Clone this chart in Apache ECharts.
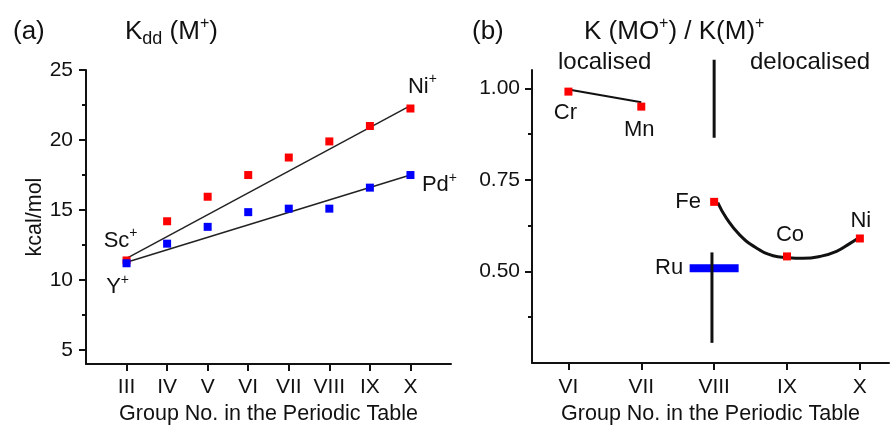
<!DOCTYPE html>
<html>
<head>
<meta charset="utf-8">
<script src="https://cdn.jsdelivr.net/npm/echarts@6/dist/echarts.min.js"></script>
<style>
  html, body { margin: 0; padding: 0; background: #fff; }
  #chart { width: 890px; height: 430px; }
</style>
</head>
<body>
<div id="chart"></div>
<script>
// panel (a): K_dd of M+ vs group number
const groupNumA = [3, 4, 5, 6, 7, 8, 9, 10];
const romanA = ['III', 'IV', 'V', 'VI', 'VII', 'VIII', 'IX', 'X'];
const kddNi = [11.4, 14.2, 15.95, 17.5, 18.75, 19.9, 21.0, 22.25];
const kddPd = [11.2, 12.6, 13.8, 14.85, 15.1, 15.1, 16.6, 17.5];
const fitNi = [11.55, 22.45];   // line ends at III and X
const fitPd = [11.27, 17.5];
const ticksA = [5, 10, 15, 20, 25];
const minorA = [7.5, 12.5, 17.5, 22.5];

// panel (b): K(MO+)/K(M+)
const groupNumB = [6, 7, 8, 9, 10];
const romanB = ['VI', 'VII', 'VIII', 'IX', 'X'];
const metalsB = ['Cr', 'Mn', 'Fe', 'Co', 'Ni'];
const ratioB = [0.991, 0.950, 0.690, 0.541, 0.590];
const ratioRu = 0.509;
const lineCrMn = [0.997, 0.962];
const curveX = [8.05, 8.17, 8.35, 8.58, 8.81, 9.0, 9.22, 9.45, 9.68, 9.86, 9.97];
const curveY = [0.688, 0.645, 0.600, 0.564, 0.543, 0.538, 0.536, 0.541, 0.555, 0.576, 0.590];
const dividerTop = [1.078, 0.865];
const dividerBottom = [0.552, 0.305];
const ticksB = [0.5, 0.75, 1.0];
const minorB = [0.375, 0.625, 0.875];

const RED = '#ff0000', BLUE = '#0000ff', INK = '#111';
const FONT = 'Liberation Sans';

function richSet(size) {
    const base = { fontFamily: FONT, color: INK, fontWeight: 'normal' };
    return {
        n: Object.assign({ fontSize: size, lineHeight: size + 6, verticalAlign: 'middle' }, base),
        s: Object.assign({ fontSize: Math.round(size * 0.62), lineHeight: Math.round(size * 0.62), verticalAlign: 'top' }, base),
        d: Object.assign({ fontSize: Math.round(size * 0.68), lineHeight: Math.round(size * 0.68), verticalAlign: 'bottom' }, base)
    };
}

function ptLabel(text, offset) {
    return { show: true, position: 'inside', offset: offset, formatter: text, color: INK, opacity: 1, rich: richSet(22) };
}

// label offsets for the annotated points
const labA = {
    ni: { 0: ['{n|Sc}{s|+}', [-6, -20]], 7: ['{n|Ni}{s|+}', [12, -22]] },
    pd: { 0: ['{n|Y}{s|+}', [-9, 24]], 7: ['{n|Pd}{s|+}', [29, 10]] }
};
const labB = [[-3, 21], [-2, 23], [-26, 0], [3, -21], [1, -18]];

const myChart = echarts.init(document.getElementById('chart'));

const axisLine = { show: true, onZero: false, lineStyle: { color: INK, width: 2 } };
const labelStyle = { color: INK, fontSize: 21, fontFamily: FONT };
const nameStyle = { color: INK, fontSize: 21.5, fontFamily: FONT };
const headStyle = { fontSize: 26, fontFamily: FONT, color: INK, fontWeight: 'normal' };
const noteStyle = { fontSize: 24, fontFamily: FONT, color: INK, fontWeight: 'normal' };

function minorAxis(grid, min, max, vals) {
    return {
        type: 'value', gridIndex: grid, min: min, max: max, position: 'left',
        axisLine: { show: false },
        axisTick: { show: true, customValues: vals, length: 4, lineStyle: { color: INK, width: 2 } },
        axisLabel: { show: false },
        splitLine: { show: false }
    };
}

const option = {
    animation: false,
    backgroundColor: '#fff',
    title: [
        { text: '(a)', left: 8, top: 14, textStyle: headStyle },
        { text: '{n|K}{d|dd}{n| (M}{s|+}{n|)}', left: 120, top: 11, textStyle: { fontWeight: 'normal', rich: richSet(26) } },
        { text: '(b)', left: 467, top: 14, textStyle: headStyle },
        { text: '{n|K (MO}{s|+}{n|) / K(M)}{s|+}', left: 579, top: 11, textStyle: { fontWeight: 'normal', rich: richSet(26) } },
        { text: 'localised', left: 553, top: 45, textStyle: noteStyle },
        { text: 'delocalised', left: 745, top: 45, textStyle: noteStyle }
    ],
    grid: [
        { left: 86, top: 70, width: 365, height: 296 },
        { left: 532, top: 70, width: 357, height: 295 }
    ],
    xAxis: [
        {
            type: 'value', gridIndex: 0, min: 2, max: 11,
            axisLine: axisLine,
            axisTick: { show: true, customValues: groupNumA, length: 7, lineStyle: { color: INK, width: 2 } },
            axisLabel: Object.assign({ customValues: groupNumA, margin: 13, formatter: v => romanA[groupNumA.indexOf(v)] || '' }, labelStyle),
            splitLine: { show: false },
            name: 'Group No. in the Periodic Table', nameLocation: 'middle', nameGap: 38, nameTextStyle: nameStyle
        },
        {
            type: 'value', gridIndex: 1, min: 5.5, max: 10.4,
            axisLine: axisLine,
            axisTick: { show: true, customValues: groupNumB, length: 7, lineStyle: { color: INK, width: 2 } },
            axisLabel: Object.assign({ customValues: groupNumB, margin: 14, formatter: v => romanB[groupNumB.indexOf(v)] || '' }, labelStyle),
            splitLine: { show: false },
            name: 'Group No. in the Periodic Table', nameLocation: 'middle', nameGap: 40, nameTextStyle: nameStyle
        }
    ],
    yAxis: [
        {
            type: 'value', gridIndex: 0, min: 4, max: 25, position: 'left',
            axisLine: axisLine,
            axisTick: { show: true, customValues: ticksA, length: 7, lineStyle: { color: INK, width: 2 } },
            axisLabel: Object.assign({ customValues: ticksA, margin: 13 }, labelStyle),
            splitLine: { show: false },
            name: 'kcal/mol', nameLocation: 'middle', nameGap: 34, nameTextStyle: nameStyle
        },
        minorAxis(0, 4, 25, minorA),
        {
            type: 'value', gridIndex: 1, min: 0.25, max: 1.05, position: 'left',
            axisLine: axisLine,
            axisTick: { show: true, customValues: ticksB, length: 7, lineStyle: { color: INK, width: 2 } },
            axisLabel: Object.assign({ customValues: ticksB, margin: 12, formatter: v => v.toFixed(2) }, labelStyle),
            splitLine: { show: false }
        },
        minorAxis(1, 0.25, 1.05, minorB)
    ],
    series: [
        // (a) fitted lines
        {
            type: 'line', xAxisIndex: 0, yAxisIndex: 0, showSymbol: false, z: 2,
            data: [[groupNumA[0], fitNi[0]], [groupNumA[7], fitNi[1]]],
            lineStyle: { color: '#222', width: 1.5 }
        },
        {
            type: 'line', xAxisIndex: 0, yAxisIndex: 0, showSymbol: false, z: 2,
            data: [[groupNumA[0], fitPd[0]], [groupNumA[7], fitPd[1]]],
            lineStyle: { color: '#222', width: 1.5 }
        },
        {
            name: 'Ni+', type: 'scatter', xAxisIndex: 0, yAxisIndex: 0, symbol: 'rect', symbolSize: 8, z: 3,
            itemStyle: { color: RED, opacity: 1 },
            data: kddNi.map((v, i) => {
                const d = { value: [groupNumA[i], v] };
                if (labA.ni[i]) d.label = ptLabel(labA.ni[i][0], labA.ni[i][1]);
                return d;
            })
        },
        {
            name: 'Pd+', type: 'scatter', xAxisIndex: 0, yAxisIndex: 0, symbol: 'rect', symbolSize: 8, z: 3,
            itemStyle: { color: BLUE, opacity: 1 },
            data: kddPd.map((v, i) => {
                const d = { value: [groupNumA[i], v] };
                if (labA.pd[i]) d.label = ptLabel(labA.pd[i][0], labA.pd[i][1]);
                return d;
            })
        },
        // (b) Ru bar
        {
            type: 'scatter', xAxisIndex: 1, yAxisIndex: 2, symbol: 'rect', symbolSize: [49, 8], z: 2,
            itemStyle: { color: BLUE, opacity: 1 },
            data: [{ value: [8, ratioRu], label: ptLabel('{n|Ru}', [-45, 0]) }]
        },
        // divider between localised / delocalised
        {
            type: 'line', xAxisIndex: 1, yAxisIndex: 2, showSymbol: false, clip: false, z: 3,
            data: [[8, dividerTop[0]], [8, dividerTop[1]]],
            lineStyle: { color: INK, width: 3 }
        },
        {
            type: 'line', xAxisIndex: 1, yAxisIndex: 2, showSymbol: false, clip: false, z: 3,
            data: [[7.97, dividerBottom[0]], [7.97, dividerBottom[1]]],
            lineStyle: { color: INK, width: 3 }
        },
        {
            type: 'line', xAxisIndex: 1, yAxisIndex: 2, showSymbol: false, z: 3,
            data: [[groupNumB[0], lineCrMn[0]], [groupNumB[1], lineCrMn[1]]],
            lineStyle: { color: INK, width: 2 }
        },
        {
            type: 'line', xAxisIndex: 1, yAxisIndex: 2, showSymbol: false, smooth: true, z: 3,
            data: curveX.map((x, i) => [x, curveY[i]]),
            lineStyle: { color: INK, width: 3 }
        },
        {
            type: 'scatter', xAxisIndex: 1, yAxisIndex: 2, symbol: 'rect', symbolSize: 8, z: 4,
            itemStyle: { color: RED, opacity: 1 },
            data: ratioB.map((v, i) => ({
                value: [groupNumB[i], v],
                label: ptLabel('{n|' + metalsB[i] + '}', labB[i])
            }))
        }
    ]
};

myChart.setOption(option);
</script>
</body>
</html>
